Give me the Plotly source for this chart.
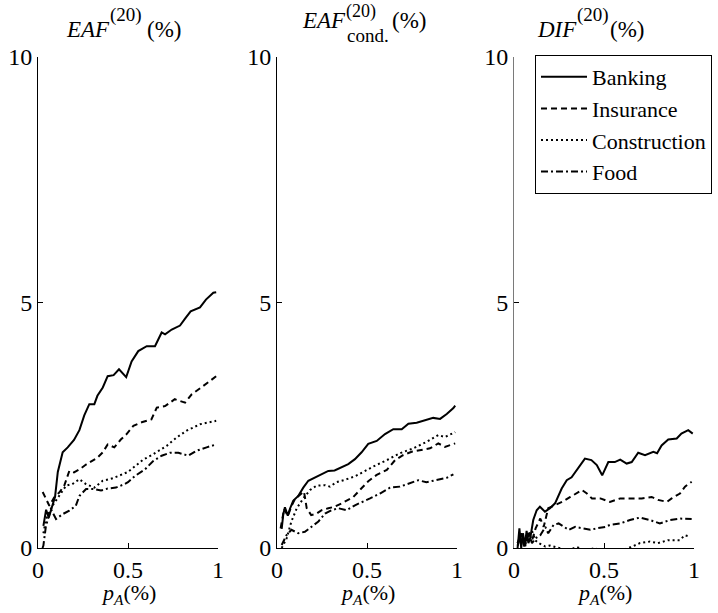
import plotly.graph_objects as go

W, H = 718, 613
FONT = "Liberation Serif, Times New Roman, serif"

series_names = ["Banking", "Insurance", "Construction", "Food"]

# ---------- Panel 1: EAF ----------
p1_bank_x = [0.03, 0.045, 0.06, 0.08, 0.095, 0.11, 0.137, 0.165, 0.2, 0.23, 0.257, 0.285, 0.313, 0.33, 0.36, 0.387, 0.42, 0.45, 0.49, 0.52, 0.557, 0.604, 0.65, 0.687, 0.706, 0.743, 0.789, 0.817, 0.848, 0.9, 0.933, 0.974, 0.99]
p1_bank_y = [0.45, 0.78, 0.62, 0.85, 1.05, 1.55, 1.95, 2.05, 2.2, 2.4, 2.7, 2.93, 2.93, 3.1, 3.27, 3.5, 3.52, 3.64, 3.48, 3.8, 4.01, 4.11, 4.11, 4.39, 4.35, 4.45, 4.53, 4.67, 4.82, 4.9, 5.06, 5.2, 5.21]
p1_ins_x = [0.026, 0.045, 0.063, 0.09, 0.118, 0.146, 0.174, 0.2, 0.23, 0.267, 0.3, 0.33, 0.36, 0.387, 0.424, 0.46, 0.49, 0.53, 0.576, 0.63, 0.66, 0.706, 0.76, 0.817, 0.854, 0.91, 0.955, 0.99]
p1_ins_y = [1.14, 1.0, 0.86, 1.03, 1.13, 1.27, 1.57, 1.54, 1.6, 1.7, 1.78, 1.84, 1.95, 2.11, 2.05, 2.21, 2.31, 2.49, 2.56, 2.62, 2.86, 2.89, 3.03, 2.96, 3.13, 3.27, 3.4, 3.5]
p1_con_x = [0.03, 0.044, 0.08, 0.118, 0.156, 0.19, 0.23, 0.267, 0.313, 0.36, 0.415, 0.455, 0.5, 0.53, 0.585, 0.64, 0.715, 0.77, 0.826, 0.9, 0.99]
p1_con_y = [0.3, 0.59, 0.86, 1.06, 1.27, 1.3, 1.4, 1.3, 1.23, 1.37, 1.42, 1.48, 1.55, 1.64, 1.8, 1.91, 2.08, 2.25, 2.39, 2.52, 2.59]
p1_food_x = [0.025, 0.03, 0.044, 0.072, 0.1, 0.137, 0.174, 0.21, 0.23, 0.267, 0.313, 0.35, 0.387, 0.433, 0.48, 0.5, 0.54, 0.594, 0.64, 0.687, 0.733, 0.78, 0.835, 0.88, 0.937, 0.99]
p1_food_y = [0.0, 0.05, 0.45, 0.79, 0.59, 0.69, 0.76, 0.86, 1.06, 1.2, 1.2, 1.17, 1.21, 1.23, 1.3, 1.34, 1.47, 1.6, 1.77, 1.88, 1.94, 1.94, 1.88, 1.98, 2.05, 2.11]

# ---------- Panel 2: EAF cond. ----------
p2_bank_x = [0.026, 0.035, 0.044, 0.06, 0.072, 0.09, 0.118, 0.146, 0.174, 0.21, 0.248, 0.285, 0.32, 0.36, 0.396, 0.433, 0.47, 0.507, 0.554, 0.6, 0.646, 0.693, 0.73, 0.776, 0.822, 0.868, 0.906, 0.943, 0.98, 0.99]
p2_bank_y = [0.39, 0.69, 0.83, 0.66, 0.8, 0.96, 1.06, 1.23, 1.37, 1.44, 1.5, 1.57, 1.58, 1.64, 1.71, 1.81, 1.95, 2.12, 2.18, 2.32, 2.42, 2.42, 2.53, 2.55, 2.6, 2.65, 2.63, 2.73, 2.85, 2.9]
p2_ins_x = [0.02, 0.04, 0.06, 0.08, 0.1, 0.13, 0.15, 0.165, 0.19, 0.22, 0.248, 0.285, 0.32, 0.36, 0.387, 0.424, 0.46, 0.507, 0.554, 0.61, 0.656, 0.7, 0.748, 0.8, 0.85, 0.896, 0.933, 0.99]
p2_ins_y = [0.4, 0.8, 0.65, 0.85, 1.0, 1.1, 1.15, 0.81, 0.67, 0.7, 0.77, 0.81, 0.84, 0.91, 0.96, 1.04, 1.18, 1.36, 1.49, 1.59, 1.79, 1.89, 1.96, 1.99, 2.03, 2.13, 2.06, 2.13]
p2_con_x = [0.026, 0.054, 0.08, 0.11, 0.146, 0.183, 0.22, 0.267, 0.294, 0.33, 0.378, 0.433, 0.49, 0.535, 0.61, 0.683, 0.757, 0.83, 0.896, 0.933, 0.99]
p2_con_y = [0.0, 0.2, 0.54, 0.81, 1.01, 1.18, 1.27, 1.28, 1.25, 1.34, 1.39, 1.46, 1.57, 1.66, 1.79, 1.93, 2.03, 2.16, 2.3, 2.26, 2.36]
p2_food_x = [0.026, 0.054, 0.08, 0.118, 0.155, 0.19, 0.23, 0.267, 0.304, 0.34, 0.387, 0.433, 0.48, 0.517, 0.572, 0.628, 0.683, 0.74, 0.785, 0.83, 0.887, 0.943, 0.98]
p2_food_y = [0.06, 0.27, 0.37, 0.3, 0.33, 0.43, 0.54, 0.7, 0.77, 0.81, 0.77, 0.87, 0.94, 1.01, 1.11, 1.23, 1.25, 1.32, 1.38, 1.34, 1.38, 1.43, 1.5]

# ---------- Panel 3: DIF ----------
p3_bank_x = [0.02, 0.03, 0.04, 0.05, 0.06, 0.07, 0.08, 0.09, 0.107, 0.126, 0.144, 0.172, 0.2, 0.228, 0.265, 0.293, 0.32, 0.357, 0.394, 0.43, 0.46, 0.49, 0.524, 0.56, 0.59, 0.626, 0.654, 0.69, 0.728, 0.774, 0.795, 0.82, 0.857, 0.904, 0.93, 0.968, 0.993]
p3_bank_y = [0.0, 0.4, 0.0, 0.3, 0.05, 0.35, 0.1, 0.2, 0.57, 0.77, 0.84, 0.74, 0.81, 0.91, 1.21, 1.38, 1.44, 1.62, 1.82, 1.79, 1.69, 1.48, 1.75, 1.75, 1.8, 1.72, 1.75, 1.94, 1.89, 1.96, 1.93, 2.09, 2.21, 2.23, 2.33, 2.4, 2.33]
p3_ins_x = [0.02, 0.04, 0.06, 0.08, 0.1, 0.12, 0.146, 0.165, 0.19, 0.23, 0.267, 0.313, 0.35, 0.378, 0.405, 0.433, 0.48, 0.533, 0.59, 0.654, 0.71, 0.765, 0.8, 0.85, 0.876, 0.922, 0.95, 0.987]
p3_ins_y = [0.1, 0.3, 0.05, 0.35, 0.15, 0.4, 0.6, 0.43, 0.81, 0.87, 0.94, 1.04, 1.11, 1.18, 1.11, 1.01, 1.01, 0.94, 1.01, 1.01, 1.01, 1.04, 0.98, 0.94, 1.01, 1.11, 1.25, 1.35]
p3_con_x = [0.02, 0.04, 0.06, 0.08, 0.1, 0.12, 0.137, 0.174, 0.2, 0.25, 0.3, 0.35, 0.4, 0.45, 0.5, 0.55, 0.6, 0.65, 0.7, 0.755, 0.8, 0.857, 0.92, 0.95, 0.98]
p3_con_y = [0.1, 0.3, 0.05, 0.25, 0.35, 0.15, 0.1, 0.03, 0.05, 0.0, -0.05, 0.02, -0.05, 0.0, -0.1, -0.1, -0.05, 0.02, 0.1, 0.13, 0.1, 0.16, 0.16, 0.26, 0.23]
p3_food_x = [0.02, 0.04, 0.06, 0.08, 0.1, 0.12, 0.146, 0.174, 0.19, 0.22, 0.248, 0.276, 0.304, 0.34, 0.378, 0.424, 0.46, 0.507, 0.533, 0.59, 0.644, 0.7, 0.755, 0.81, 0.867, 0.922, 0.987]
p3_food_y = [0.05, 0.25, 0.0, 0.3, 0.1, 0.2, 0.26, 0.43, 0.3, 0.47, 0.5, 0.43, 0.37, 0.43, 0.4, 0.37, 0.4, 0.43, 0.47, 0.5, 0.57, 0.62, 0.57, 0.5, 0.57, 0.6, 0.59]

x_ticks = [0, 0.5, 1]
x_tick_labels = ["0", "0.5", "1"]
y_ticks = [0, 5, 10]
y_tick_labels = ["0", "5", "10"]

panels = [
    [(p1_bank_x, p1_bank_y), (p1_ins_x, p1_ins_y), (p1_con_x, p1_con_y), (p1_food_x, p1_food_y)],
    [(p2_bank_x, p2_bank_y), (p2_ins_x, p2_ins_y), (p2_con_x, p2_con_y), (p2_food_x, p2_food_y)],
    [(p3_bank_x, p3_bank_y), (p3_ins_x, p3_ins_y), (p3_con_x, p3_con_y), (p3_food_x, p3_food_y)],
]

dashes = ["solid", "6px,4px", "2px,3px", "7px,3px,2px,3px"]
widths = [2, 2, 2, 2]

# panel pixel extents
px_x = [(38, 218), (277, 457), (514, 694)]
px_y = (57, 548)  # top (y=10), bottom (y=0)
ylinecolors = ["black", "black", "#7a7a7a"]

fig = go.Figure()
for pi, panel in enumerate(panels):
    ax = "" if pi == 0 else str(pi + 1)
    for si, (xs, ys) in enumerate(panel):
        fig.add_trace(go.Scatter(
            x=xs, y=ys, mode="lines",
            line=dict(color="black", width=widths[si], dash=dashes[si]),
            name=series_names[si], legendgroup=series_names[si],
            showlegend=(pi == 2),
            xaxis="x" + ax, yaxis="y" + ax,
        ))

tickfont = dict(family=FONT, size=24, color="black")
axis_common = dict(showline=True, linewidth=1, ticks="inside",
                   ticklen=5, tickcolor="black", tickwidth=1, showgrid=False,
                   zeroline=False, tickfont=tickfont, mirror=False, automargin=False)

ydom = [1 - px_y[1] / H, 1 - px_y[0] / H]
layout = dict(
    width=W, height=H, margin=dict(l=0, r=0, t=0, b=0, autoexpand=False),
    paper_bgcolor="white", plot_bgcolor="white",
    showlegend=True,
    legend=dict(x=535 / W, y=1 - 55 / H, xanchor="left", yanchor="top",
                bordercolor="black", borderwidth=1, bgcolor="white",
                font=dict(family=FONT, size=22, color="black"),
                itemwidth=46, tracegroupgap=0),
)
for pi in range(3):
    ax = "" if pi == 0 else str(pi + 1)
    xd = [px_x[pi][0] / W, px_x[pi][1] / W]
    layout["xaxis" + ax] = dict(domain=xd, range=[0, 1], tickvals=x_ticks, ticktext=x_tick_labels,
                                anchor="y" + ax, linecolor="black", **axis_common)
    layout["yaxis" + ax] = dict(domain=ydom, range=[0, 10], tickvals=y_ticks, ticktext=y_tick_labels,
                                anchor="x" + ax, linecolor=ylinecolors[pi], **axis_common)
fig.update_layout(**layout)


def ann(text, x, y, size, xanchor="left"):
    fig.add_annotation(text=text, x=x / W, y=1 - y / H, xref="paper", yref="paper",
                       xanchor=xanchor, yanchor="middle", showarrow=False,
                       font=dict(family=FONT, size=size, color="black"))

# titles
ann("<i>EAF</i>", 112, 30, 23, "right")
ann("(20)", 108, 15, 19)
ann("(%)", 145, 30, 23)

ann("<i>EAF</i>", 348, 20, 23, "right")
ann("(20)", 344, 12, 18)
ann("cond.", 345, 36, 19)
ann("(%)", 390, 20, 23)

ann("<i>DIF</i>", 579, 30, 23, "right")
ann("(20)", 575, 15, 19)
ann("(%)", 608, 30, 23)

# x-axis titles
for (a, b) in px_x:
    ann("<i>p</i><sub><i>A</i></sub>(%)", (a + b) / 2, 594, 22, "center")

fig.write_html("out.html", config={"displayModeBar": False},
               post_script="document.body.style.margin='0px';")
